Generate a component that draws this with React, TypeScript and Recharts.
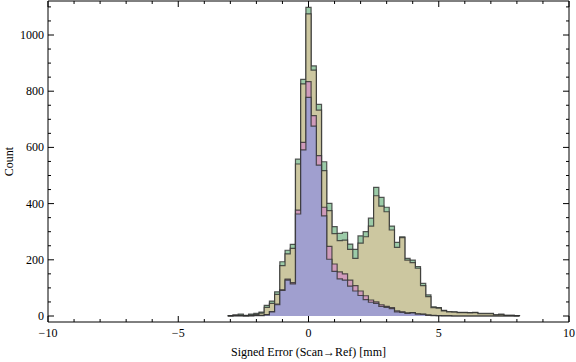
import { Area, ComposedChart, Label, XAxis, YAxis } from "recharts";

// histogram bins: width 0.2, first bin starts at -3.1
const BIN_START = -3.1;
const BIN_WIDTH = 0.2;

// visible levels per bin (top of each coloured band)
const GREEN = [
  1, 4, 7, 2, 7, 9, 14, 38, 53, 86, 193, 234, 255, 558, 842, 1098, 890, 753, 549, 401,
  318, 294, 298, 256, 237, 285, 300, 348, 458, 422, 387, 320, 262, 282, 205, 199, 176, 116,
  75, 33, 30, 20, 16, 15, 13, 13, 12, 13, 9, 9, 9, 4, 7, 2, 2, 1,
];
const KHAKI = [
  1, 2, 2, 1, 3, 5, 10, 31, 45, 77, 179, 221, 241, 541, 826, 1075, 875, 733, 517, 375,
  293, 268, 270, 237, 205, 259, 282, 320, 428, 391, 371, 306, 244, 279, 199, 190, 170, 108,
  69, 30, 28, 18, 15, 14, 12, 12, 11, 12, 8, 8, 8, 4, 5, 2, 2, 1,
];
const PINK = [
  0, 1, 1, 0, 1, 2, 2, 5, 16, 42, 93, 131, 119, 377, 618, 834, 713, 571, 387, 248,
  185, 157, 150, 128, 108, 89, 72, 57, 50, 40, 34, 30, 18, 15, 11, 12, 8, 7,
  4, 2, 1, 1, 1, 0, 0, 0, 0, 0, 0, 0, 0, 0, 0, 0, 0, 0,
];
const BLUE = [
  0, 0, 0, 0, 0, 1, 1, 4, 15, 40, 91, 128, 114, 363, 591, 778, 676, 537, 356, 202,
  159, 132, 128, 106, 89, 73, 58, 49, 45, 34, 31, 26, 15, 13, 9, 11, 7, 6,
  2, 1, 1, 0, 0, 0, 0, 0, 0, 0, 0, 0, 0, 0, 0, 0, 0, 0,
];

const X_TICKS = [
  -10, -9, -8, -7, -6, -5, -4, -3, -2, -1, 0, 1, 2, 3, 4, 5, 6, 7, 8, 9, 10,
];
const Y_TICKS = [
  0, 50, 100, 150, 200, 250, 300, 350, 400, 450, 500, 550, 600, 650, 700, 750, 800, 850,
  900, 950, 1000, 1050, 1100,
];

const FONT = "'Liberation Serif', 'Times New Roman', serif";
const X_DOMAIN: [number, number] = [-10, 10];
const Y_DOMAIN: [number, number] = [-21.35, 1121];

const rows = GREEN.map((_, i) => ({
  x: +(BIN_START + i * BIN_WIDTH).toFixed(2),
  g: GREEN[i],
  k: KHAKI[i],
  p: PINK[i],
  b: BLUE[i],
}));
// closing edge so the last step drops back to zero
rows.push({ x: +(BIN_START + GREEN.length * BIN_WIDTH).toFixed(2), g: 0, k: 0, p: 0, b: 0 });

const fmtX = (v: number) => (v < 0 ? `\u2212${-v}` : `${v}`);

const BottomTick = ({ x, y, payload }: any) => {
  const v = payload.value as number;
  const major = v % 5 === 0;
  return (
    <g>
      <line x1={x} x2={x} y1={y} y2={y - (major ? 6 : 3)} stroke="#000" />
      {major && (
        <text x={x} y={y + 15} textAnchor="middle" fontSize={12} fontFamily={FONT} fill="#000">
          {fmtX(v)}
        </text>
      )}
    </g>
  );
};

const TopTick = ({ x, y, payload }: any) => {
  const major = (payload.value as number) % 5 === 0;
  return <line x1={x} x2={x} y1={y} y2={y + (major ? 6 : 3)} stroke="#000" />;
};

const LeftTick = ({ x, y, payload }: any) => {
  const v = payload.value as number;
  const major = v % 200 === 0;
  return (
    <g>
      <line x1={x} x2={x + (major ? 6 : 3)} y1={y} y2={y} stroke="#000" />
      {major && (
        <text x={x - 4} y={y + 4} textAnchor="end" fontSize={12} fontFamily={FONT} fill="#000">
          {v}
        </text>
      )}
    </g>
  );
};

const RightTick = ({ x, y, payload }: any) => {
  const major = (payload.value as number) % 200 === 0;
  return <line x1={x} x2={x - (major ? 6 : 3)} y1={y} y2={y} stroke="#000" />;
};

const CountLabel = ({ viewBox }: any) => {
  const cx = viewBox.x + 13;
  const cy = viewBox.y + viewBox.height / 2;
  return (
    <text
      x={cx}
      y={cy}
      transform={`rotate(-90, ${cx}, ${cy})`}
      textAnchor="middle"
      fontSize={12}
      fontFamily={FONT}
      fill="#000"
    >
      Count
    </text>
  );
};

// green is drawn on the frame axes (top/right), which share the same domains
const LAYERS = [
  { key: "g", fill: "#9ccba8", xId: "top", yId: "right" },
  { key: "k", fill: "#ccc7a0", xId: 0, yId: 0 },
  { key: "p", fill: "#cf9bbb", xId: 0, yId: 0 },
  { key: "b", fill: "#a09fcf", xId: 0, yId: 0 },
];

export default function App() {
  return (
    <div style={{ position: "absolute", left: 0, top: 0 }}>
      <ComposedChart
        width={576}
        height={362}
        data={rows}
        margin={{ top: 0, right: 6, left: 0, bottom: 0 }}
      >
        <XAxis
          dataKey="x"
          type="number"
          domain={X_DOMAIN}
          allowDataOverflow
          ticks={X_TICKS}
          interval={0}
          height={40}
          stroke="#000"
          tickLine={false}
          tickSize={0}
          tickMargin={0}
          tick={BottomTick}
        >
          <Label
            value="Signed Error (Scan→Ref) [mm]"
            position="insideBottom"
            offset={6}
            fontSize={12}
            fontFamily={FONT}
            fill="#000"
          />
        </XAxis>
        <XAxis
          xAxisId="top"
          dataKey="x"
          orientation="top"
          type="number"
          domain={X_DOMAIN}
          allowDataOverflow
          ticks={X_TICKS}
          interval={0}
          height={1}
          stroke="#000"
          tickLine={false}
          tickSize={0}
          tickMargin={0}
          tick={TopTick}
        />
        <YAxis
          type="number"
          domain={Y_DOMAIN}
          allowDataOverflow
          ticks={Y_TICKS}
          interval={0}
          width={48}
          stroke="#000"
          tickLine={false}
          tickSize={0}
          tickMargin={0}
          tick={LeftTick}
        >
          <Label content={CountLabel} />
        </YAxis>
        <YAxis
          yAxisId="right"
          orientation="right"
          type="number"
          domain={Y_DOMAIN}
          allowDataOverflow
          ticks={Y_TICKS}
          interval={0}
          width={1}
          stroke="#000"
          tickLine={false}
          tickSize={0}
          tickMargin={0}
          tick={RightTick}
        />
        {LAYERS.map((l) => (
          <Area
            key={l.key}
            dataKey={l.key}
            xAxisId={l.xId}
            yAxisId={l.yId}
            type="stepAfter"
            baseValue={0}
            fill={l.fill}
            fillOpacity={1}
            stroke="#2e2e2e"
            strokeOpacity={0.8}
            strokeWidth={1.2}
            dot={false}
            activeDot={false}
            isAnimationActive={false}
          />
        ))}
      </ComposedChart>
    </div>
  );
}
